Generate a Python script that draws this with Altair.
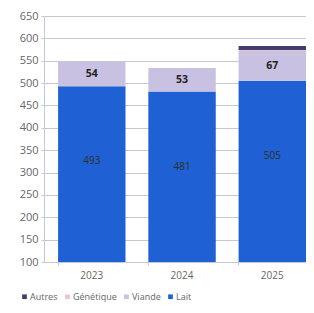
import altair as alt
import pandas as pd

years = ["2023", "2024", "2025"]
lait = [493, 481, 505]
viande = [54, 53, 67]
genetique = [0, 0, 2]
autres = [0, 0, 9]

series = ["Autres", "Génétique", "Viande", "Lait"]
colors = ["#3f3c6e", "#f0c3cc", "#c9c1e2", "#1f60d4"]
yticks = [100, 150, 200, 250, 300, 350, 400, 450, 500, 550, 600, 650]

rows = []
for i, y in enumerate(years):
    for s, vals, o in [("Lait", lait, 0), ("Viande", viande, 1), ("Génétique", genetique, 2), ("Autres", autres, 3)]:
        rows.append({"year": y, "serie": s, "value": vals[i], "ord": o})
df = pd.DataFrame(rows)

lab = pd.DataFrame({
    "year": years * 2,
    "txt": [str(v) for v in lait] + [str(v) for v in viande],
    "pos": [v - 168 for v in lait] + [l + v / 2 for l, v in zip(lait, viande)],
    "kind": ["Lait"] * 3 + ["Viande"] * 3,
})

xaxis = alt.Axis(labelAngle=0, labelColor="#666", labelFontSize=10, labelFont="Open Sans",
                 domainColor="#c5c8d6", tickColor="#c5c8d6", tickSize=3,
                 bandPosition=0, labelPadding=5)
xscale = alt.Scale(paddingInner=0.253, paddingOuter=0.078, align=1)
yaxis = alt.Axis(values=yticks, labelOverlap=False, labelColor="#666",
                 labelFontSize=11, labelFont="Open Sans", gridColor="#c5c8d6",
                 domainColor="#c5c8d6", tickColor="#c5c8d6", tickSize=3, labelPadding=3)
yscale = alt.Scale(domain=[100, 650], nice=False, zero=False)

bars = alt.Chart(df).mark_bar(clip=True).encode(
    x=alt.X("year:N", title=None, scale=xscale, axis=xaxis),
    y=alt.Y("value:Q", stack="zero", title=None, scale=yscale, axis=yaxis),
    color=alt.Color("serie:N", scale=alt.Scale(domain=series, range=colors),
                    legend=alt.Legend(title=None, orient="none", direction="horizontal",
                                      legendX=-24, legendY=276, symbolType="square", symbolSize=22,
                                      labelFontSize=9, labelColor="#666", labelFont="Open Sans",
                                      columnPadding=5, labelOffset=1, symbolStrokeWidth=0,
                                      padding=0)),
    order=alt.Order("ord:Q"),
)

t_lait = alt.Chart(lab[lab.kind == "Lait"]).mark_text(fontSize=10, color="#2b3320", font="Open Sans").encode(
    x=alt.X("year:N", title=None, scale=xscale, axis=xaxis),
    y=alt.Y("pos:Q", title=None, scale=yscale, axis=yaxis), text="txt:N")
t_viande = alt.Chart(lab[lab.kind == "Viande"]).mark_text(fontSize=10.5, fontWeight="bold", color="#222", font="Open Sans").encode(
    x=alt.X("year:N", title=None, scale=xscale, axis=xaxis),
    y=alt.Y("pos:Q", title=None, scale=yscale, axis=yaxis), text="txt:N")

chart = alt.layer(bars, t_lait, t_viande).properties(
    width=262, height=246,
    autosize=alt.AutoSizeParams(type="none"),
    padding={"left": 36, "top": 8, "right": 0, "bottom": 43},
).configure_view(stroke=None)

chart.save("out.html", embed_options={"renderer": "svg", "actions": False})
